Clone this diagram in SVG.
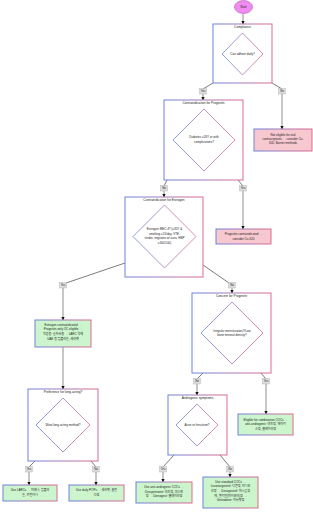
<svg xmlns="http://www.w3.org/2000/svg" width="313" height="512" viewBox="0 0 313 512">
<style>
text{font-family:"Liberation Sans",Arial,"Noto Sans CJK KR",sans-serif;fill:#222;text-anchor:middle}
.t{font-size:3.2px}
.n{font-size:3px}
.cl{fill:#fff;stroke:url(#g);stroke-width:1}
.dm{fill:#fff;stroke:url(#g);stroke-width:0.8}
.bx{stroke:url(#g);stroke-width:1}
.pk{fill:#f8c8d0}
.gr{fill:#cdf5cd}
.e{fill:none;stroke:#444;stroke-width:0.7}
.v{fill:none;stroke:#999;stroke-width:1.1;marker-end:url(#a)}
.lb rect{fill:#ddd;stroke:#aaa;stroke-width:0.4}
.lb text{font-size:2.8px}
</style>
<defs>
<linearGradient id="g" x1="0" y1="0" x2="1" y2="0">
<stop offset="0" stop-color="#6c84dc"/>
<stop offset="1" stop-color="#dc6c8e"/>
</linearGradient>
<marker id="a" viewBox="0 0 10 10" refX="9" refY="5" markerWidth="3" markerHeight="3" orient="auto">
<path d="M0,0L10,5L0,10z" fill="#111"/>
</marker>
</defs>

<g id="connectors">
<path class="v" d="M243,14V24"/>
<path class="e" d="M213,83L203,89"/>
<path class="v" d="M203,94V100"/>
<path class="e" d="M272,83L282,89"/>
<path class="v" d="M282,94V129"/>
<path class="e" d="M167,180L164,186"/>
<path class="v" d="M164,191V197"/>
<path class="e" d="M238,180L243,186"/>
<path class="v" d="M243,191V229"/>
<path class="e" d="M125,263L66,283"/>
<path class="v" d="M63,288V320"/>
<path class="e" d="M203,265L229,283"/>
<path class="v" d="M232,288V293"/>
<path class="v" d="M63,347V389"/>
<path class="e" d="M203,373L197,379"/>
<path class="v" d="M197,384V395"/>
<path class="e" d="M261,373L266,379"/>
<path class="v" d="M266,384V414"/>
<path class="e" d="M35,461L29,467"/>
<path class="v" d="M29,472V485"/>
<path class="e" d="M91,461L96,467"/>
<path class="v" d="M96,472V485"/>
<path class="e" d="M174,455L163,467"/>
<path class="v" d="M163,472V482"/>
<path class="e" d="M220,455L230,467"/>
<path class="v" d="M230,472V477"/>
</g>

<g id="edge-labels" class="lb">
<rect x="199.5" y="88.5" width="7" height="5.5"/><text x="203" y="92.3">Yes</text>
<rect x="278.5" y="88.5" width="7" height="5.5"/><text x="282" y="92.3">No</text>
<rect x="160.5" y="185.5" width="7" height="5.5"/><text x="164" y="189.3">No</text>
<rect x="239.5" y="185.5" width="7" height="5.5"/><text x="243" y="189.3">Yes</text>
<rect x="59.5" y="282.5" width="7" height="5.5"/><text x="63" y="286.3">Yes</text>
<rect x="228.5" y="282.5" width="7" height="5.5"/><text x="232" y="286.3">No</text>
<rect x="193.5" y="378.5" width="7" height="5.5"/><text x="197" y="382.3">No</text>
<rect x="262.5" y="378.5" width="7" height="5.5"/><text x="266" y="382.3">Yes</text>
<rect x="25.5" y="466.5" width="7" height="5.5"/><text x="29" y="470.3">Yes</text>
<rect x="92.5" y="466.5" width="7" height="5.5"/><text x="96" y="470.3">No</text>
<rect x="159.5" y="466.5" width="7" height="5.5"/><text x="163" y="470.3">Yes</text>
<rect x="226.5" y="466.5" width="7" height="5.5"/><text x="230" y="470.3">No</text>
</g>

<g id="start">
<ellipse cx="243.5" cy="7" rx="9" ry="6.5" fill="#f08cf0" stroke="#b050b0" stroke-width="0.6"/>
<text class="n" x="243.5" y="8">Start</text>
</g>

<g id="compliance">
<rect class="cl" x="213" y="24" width="59" height="59"/>
<text class="t" x="242.5" y="28">Compliance</text>
<path class="dm" d="M242.5,33L263,54L242.5,75L222,54z"/>
<text class="n" x="242.5" y="55">Can adhere daily?</text>
</g>

<g id="not-eligible">
<rect class="bx pk" x="254" y="129" width="58" height="22"/>
<text class="n" x="283" y="135.5">Not eligible for oral</text>
<text class="n" x="283" y="139.8">contraceptives → consider Cu-</text>
<text class="n" x="283" y="144.1">IUD, Barrier methods</text>
</g>

<g id="contra-progestin">
<rect class="cl" x="164" y="100" width="79" height="80"/>
<text class="t" x="203.5" y="104">Contraindication for Progestin</text>
<path class="dm" d="M204,109L235,140L204,171L173,140z"/>
<text class="n" x="204" y="138">Diabetes ≥20Y or with</text>
<text class="n" x="204" y="143">complications?</text>
</g>

<g id="progestin-contraindicated">
<rect class="bx pk" x="216" y="229" width="55" height="15"/>
<text class="n" x="243.5" y="234.5">Progestin contraindicated →</text>
<text class="n" x="243.5" y="239.5">consider Cu-IUD</text>
</g>

<g id="contra-estrogen">
<rect class="cl" x="125" y="197" width="78" height="80"/>
<text class="t" x="164" y="201">Contraindication for Estrogen</text>
<path class="dm" d="M164.5,205L196,236.5L164.5,268L133,236.5z"/>
<text class="n" x="164.5" y="230">Estrogen MEC 4? (≥35Y &amp;</text>
<text class="n" x="164.5" y="234.6">smoking ≥15/day, VTE,</text>
<text class="n" x="164.5" y="239.2">stroke, migraine w/ aura, HBP</text>
<text class="n" x="164.5" y="243.8">≥160/100)</text>
</g>

<g id="estrogen-contraindicated">
<rect class="bx gr" x="35" y="320" width="56" height="27"/>
<text class="n" x="63" y="325.5">Estrogen contraindicated →</text>
<text class="n" x="63" y="330.3">Progestin-only OC eligible →</text>
<text class="n" x="63" y="335.1">적응증: 순차사용 → LARC 약제</text>
<text class="n" x="63" y="339.9">UAE 등 임플라논, 세라젯</text>
</g>

<g id="concern-progestin">
<rect class="cl" x="192" y="293" width="79" height="80"/>
<text class="t" x="231.5" y="297">Concern for Progestin</text>
<path class="dm" d="M232,302L263,333L232,364L201,333z"/>
<text class="n" x="232" y="331.5">Irregular menstruation?/Low</text>
<text class="n" x="232" y="336.2">bone mineral density?</text>
</g>

<g id="eligible-combination">
<rect class="bx gr" x="238" y="414" width="55" height="21"/>
<text class="n" x="265.5" y="420.5">Eligible for combination COCs →</text>
<text class="n" x="265.5" y="425.2">anti-androgenic: 야즈정, 에이리</text>
<text class="n" x="265.5" y="429.9">스정, 클레이라정</text>
</g>

<g id="long-acting">
<rect class="cl" x="28" y="389" width="70" height="72"/>
<text class="t" x="63" y="393">Preference for long-acting?</text>
<path class="dm" d="M63,398L90,425L63,452L36,425z"/>
<text class="n" x="63" y="426">Want long-acting method?</text>
</g>

<g id="androgenic">
<rect class="cl" x="168" y="395" width="59" height="60"/>
<text class="t" x="197.5" y="399">Androgenic symptoms</text>
<path class="dm" d="M197,404L218,425L197,446L176,425z"/>
<text class="n" x="197" y="426">Acne or hirsutism?</text>
</g>

<g id="use-larcs">
<rect class="bx gr" x="3" y="485" width="54" height="16"/>
<text class="n" x="30" y="491">Use LARCs → 미레나, 임플라</text>
<text class="n" x="30" y="495.8">논, 카일리나</text>
</g>

<g id="use-pops">
<rect class="bx gr" x="69" y="485" width="55" height="16"/>
<text class="n" x="96.5" y="491">Use daily POPs → 세라젯, 슬린</text>
<text class="n" x="96.5" y="495.8">다정</text>
</g>

<g id="use-anti-androgenic">
<rect class="bx gr" x="136" y="482" width="56" height="21"/>
<text class="n" x="164" y="488">Use anti-androgenic COCs →</text>
<text class="n" x="164" y="492.7">Drospirenone: 야즈정, 야스민</text>
<text class="n" x="164" y="497.4">정 → Dienogest: 클레이라정</text>
</g>

<g id="use-standard">
<rect class="bx gr" x="203" y="477" width="55" height="31"/>
<text class="n" x="230.5" y="482.8">Use standard COCs →</text>
<text class="n" x="230.5" y="487.4">Levonorgestrel: 디콘정, 미니보</text>
<text class="n" x="230.5" y="492">라정 → Desogestrel: 머시론정</text>
<text class="n" x="230.5" y="496.6">에, 멜리안(마이보라)정 →</text>
<text class="n" x="230.5" y="501.2">Gestodene: 미뉴렛정</text>
</g>
</svg>
